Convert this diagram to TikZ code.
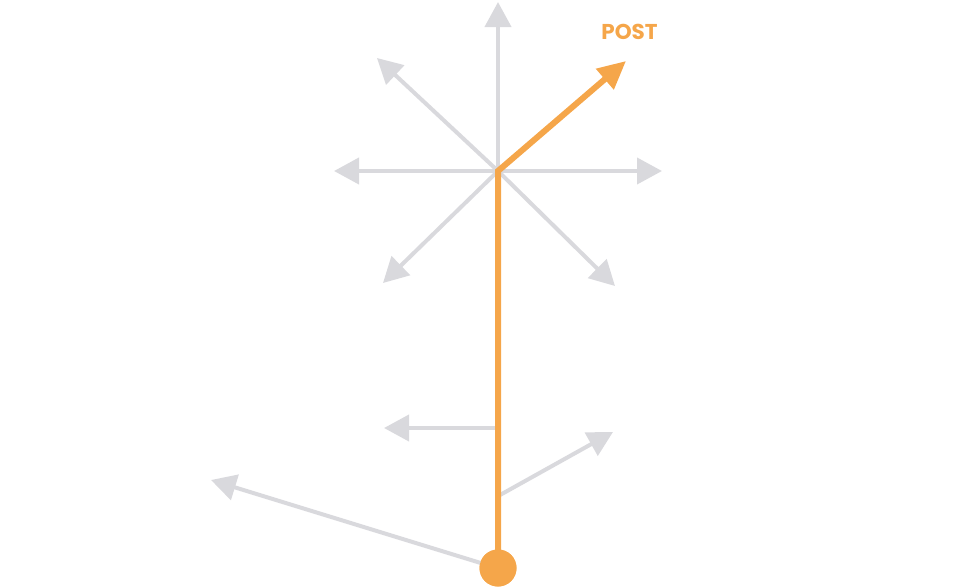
\documentclass[tikz,border=0pt]{standalone}
\usepackage{fontspec}
\setmainfont{Poppins}
\usetikzlibrary{arrows.meta}
\definecolor{greyarrow}{HTML}{D9D9DD}
\definecolor{orangepath}{HTML}{F5A64A}
\tikzset{
  greyline/.style={draw=greyarrow, line width=4pt, -{Triangle[length=25pt,width=26pt]}},
  orangeline/.style={draw=orangepath, line width=6pt, line join=miter},
  orangetip/.style={-{Triangle[length=28pt,width=26pt]}},
  lbl/.style={text=orangepath, font=\bfseries\fontsize{21.5}{21.5}\selectfont, inner sep=0pt}
}
\begin{document}
\begin{tikzpicture}[x=1pt,y=-1pt]
\useasboundingbox (0,0) rectangle (972,587);
% coordinates
\coordinate (hub) at (498,171);
\coordinate (up) at (498,2);
\coordinate (ul) at (377,58);
\coordinate (lt) at (334,171);
\coordinate (rt) at (662,171);
\coordinate (dl) at (383,283);
\coordinate (dr) at (615,286);
\coordinate (post) at (626,61);
\coordinate (j1) at (498,428);
\coordinate (t1) at (384,428);
\coordinate (j2) at (500,495);
\coordinate (t2) at (613,432);
\coordinate (t3) at (211,480);
\node[circle, fill=orangepath, minimum size=37pt, inner sep=0pt] (base) at (498,568) {};
% grey arrows from hub
\draw[greyline] (hub) -- (up);
\draw[greyline] (hub) -- (ul);
\draw[greyline] (hub) -- (lt);
\draw[greyline] (hub) -- (rt);
\draw[greyline] (hub) -- (dl);
\draw[greyline] (hub) -- (dr);
% grey arrows on the stem
\draw[greyline] (j1) -- (t1);
\draw[greyline] (j2) -- (t2);
\draw[greyline] (base.center) ++(-14,-4) coordinate (b3) (b3) -- (t3);
% orange path
\draw[orangeline, orangetip] (base.center) -- (hub) -- (post);
\node[circle, fill=orangepath, minimum size=37pt, inner sep=0pt] at (base) {};
\node[lbl] (postlbl) at (629.5,32) {POST};
\end{tikzpicture}
\end{document}
